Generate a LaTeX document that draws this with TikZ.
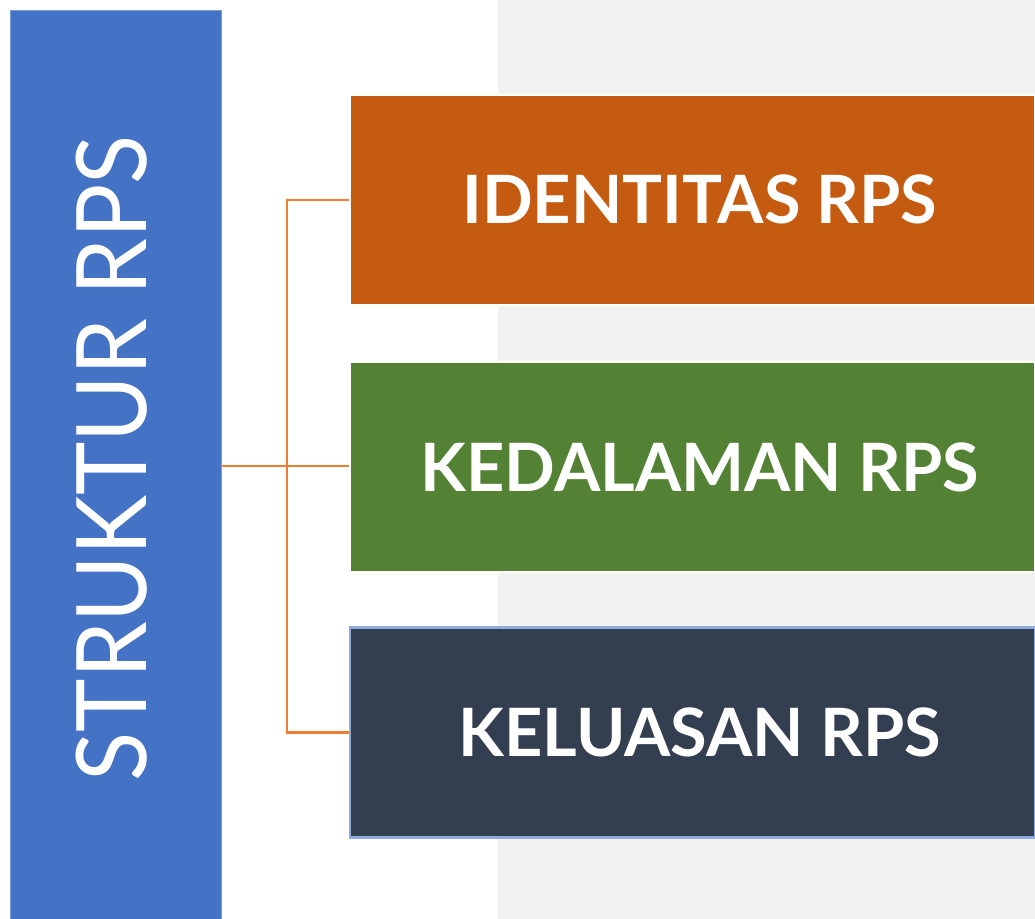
\documentclass[tikz,border=0pt]{standalone}
\usepackage{fontspec}
\setmainfont{Lato}
\usetikzlibrary{positioning}
\definecolor{rpsblue}{HTML}{4472C4}
\definecolor{rpsorange}{HTML}{C55A11}
\definecolor{rpsgreen}{HTML}{548235}
\definecolor{rpsnavy}{HTML}{333F50}
\definecolor{rpsedge}{HTML}{8FAADC}
\definecolor{rpsline}{HTML}{ED7D31}
\definecolor{rpsgray}{HTML}{F2F2F2}
\tikzset{
  rpsbox/.style={minimum width=513.75pt,minimum height=157.5pt,inner sep=0pt,
    text=white,font=\fontsize{50}{50}\selectfont\bfseries,line width=1.8pt},
  conn/.style={rpsline,line width=2.2pt}
}
\begin{document}
\begin{tikzpicture}[x=0.75pt,y=-0.75pt]
%\draw[help lines] (0,0) grid[step=100] (1035,919);
\useasboundingbox (0,0) rectangle (1035,919);
\fill[rpsgray] (498,0) rectangle (1035,919);
%
\node[fill=rpsblue,draw=rpsblue!70!white,line width=0.6pt,minimum width=158.25pt,minimum height=682pt,inner sep=0pt]
  (struktur) at (116,465) {};
\node[rotate=90,text=white,font=\fontsize{73}{73}\selectfont] (strukturtext) at (112,458.5)
  {\scalebox{0.93}[1]{STRUKTUR RPS}};
%
\node[rpsbox,fill=rpsorange,draw=white] (identitas) at (692.5,200) {\hspace*{11pt}\raisebox{2pt}{IDENTITAS RPS}};
\node[rpsbox,fill=rpsgreen,draw=white] (kedalaman) at (692.5,467) {\hspace*{11pt}KEDALAMAN RPS};
\node[rpsbox,fill=rpsnavy,draw=rpsedge,line width=2.2pt] (keluasan) at (692.5,732.5) {\hspace*{11pt}KELUASAN RPS};
%
\coordinate (J) at (287,466);
\draw[conn] (J -| struktur.east) -- (J) -- (J -| kedalaman.west);
\draw[conn] (identitas.west) -| (J) |- (keluasan.west);
\end{tikzpicture}
\end{document}
